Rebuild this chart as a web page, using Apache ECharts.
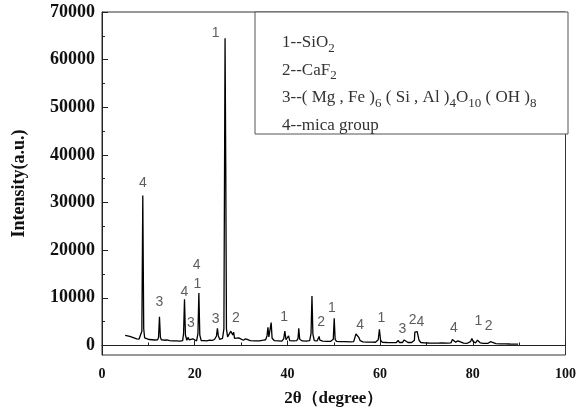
<!DOCTYPE html>
<html>
<head>
<meta charset="utf-8">
<script src="https://cdn.jsdelivr.net/npm/echarts@6/dist/echarts.min.js"></script>
<style>
  html, body { margin: 0; padding: 0; background: #fff; }
  #chart { width: 579px; height: 412px; }
</style>
</head>
<body>
<div id="chart"></div>
<script>
// 2θ (degree) 与强度
let twoTheta = [5.0, 5.5, 6.0, 6.3, 6.6, 7.0, 7.5, 8.0, 8.4, 8.6, 8.8, 9.0, 9.2, 9.6, 10.2, 10.8, 11.4, 12.0, 12.2, 12.4, 12.6, 12.8,
    13.4, 14.0, 14.6, 15.2, 16.0, 16.8, 17.4, 17.6, 17.8, 18.0, 18.3, 18.6, 18.8, 19.2, 19.6, 19.9, 20.4, 20.7, 20.9, 21.1, 21.4,
    22.0, 22.6, 23.2, 23.8, 24.3, 24.7, 24.9, 25.1, 25.4, 25.7, 26.0, 26.3, 26.55, 26.7, 26.85, 27.1, 27.5, 27.8, 28.0, 28.2, 28.4,
    28.6, 29.0, 29.5, 29.9, 30.5, 31.0, 31.4, 32.0, 33.0, 34.0, 34.8, 35.3, 35.6, 35.8, 36.0, 36.3, 36.5, 36.7, 37.2, 38.0, 38.8,
    39.2, 39.45, 39.7, 40.0, 40.25, 40.5, 41.2, 42.0, 42.3, 42.45, 42.65, 43.2, 44.0, 44.8, 45.1, 45.3, 45.5, 45.8, 46.4, 46.7,
    46.85, 47.0, 47.6, 48.5, 49.3, 49.9, 50.1, 50.3, 50.6, 51.5, 52.5, 53.5, 54.3, 54.6, 54.8, 55.1, 55.4, 55.7, 56.3, 57.2, 58.2,
    59.0, 59.6, 59.85, 60.1, 60.5, 61.5, 62.5, 63.5, 63.9, 64.2, 64.8, 65.2, 65.5, 66.0, 66.8, 67.4, 67.5, 67.75, 68.0, 68.2, 68.4,
    68.8, 69.5, 70.5, 71.5, 72.5, 73.3, 73.5, 73.7, 74.5, 75.3, 75.6, 75.9, 76.3, 76.8, 77.2, 78.0, 78.8, 79.5, 79.8, 80.1, 80.6,
    81.0, 81.3, 81.6, 82.3, 83.3, 83.8, 84.1, 85.0, 86.0, 87.0, 88.0, 89.0, 89.8];
let intensity = [2100, 2000, 1900, 2050, 1700, 1500, 1400, 1350, 1400, 3000, 31500, 3500, 1600, 1300, 1250, 1200, 1150, 1200, 1700, 6000, 1700, 1200,
    1100, 1150, 1000, 950, 950, 900, 1000, 2500, 9700, 2200, 1100, 1700, 1200, 1000, 1400, 1000, 950, 2500, 11000, 2200, 1000,
    1000, 950, 1100, 1050, 1300, 2000, 3600, 2000, 1300, 1200, 1500, 3500, 64500, 38000, 3500, 1800, 1600, 3000, 3400, 2200, 2800,
    1500, 1300, 1600, 1200, 1100, 1400, 1100, 1000, 950, 950, 1100, 1200, 2000, 3800, 1800, 2200, 4800, 1500, 1000, 950, 900,
    1400, 3000, 1200, 1200, 2000, 1000, 950, 1000, 1500, 3600, 1300, 950, 900, 1000, 2500, 10400, 2400, 1000, 950, 1300,
    1900, 1100, 900, 850, 850, 1300, 5700, 1300, 850, 800, 800, 750, 800, 1800, 2400, 2000, 1700, 1000, 750, 700, 700,
    680, 1200, 3400, 1100, 650, 620, 600, 620, 1050, 620, 620, 1150, 850, 620, 620, 1100, 2800, 3100, 2900, 3000, 1100,
    620, 560, 520, 500, 500, 520, 850, 500, 500, 560, 1250, 1050, 700, 950, 600, 480, 460, 800, 1450, 800, 560,
    1100, 1350, 560, 450, 450, 800, 430, 380, 350, 330, 310, 300, 280];

// 峰的标号
let peakText = ['4', '1', '3', '4', '3', '1', '4', '3', '2', '1', '2', '1', '4', '1', '3', '2', '4', '4', '1', '2'];
let peakX = [8.8, 24.5, 12.4, 17.8, 19.2, 20.6, 20.4, 24.5, 28.9, 39.3, 47.3, 49.6, 55.7, 60.3, 64.8, 67.0, 68.7, 75.9, 81.2, 83.4];
let peakY = [34000, 65500, 9000, 11200, 4600, 12950, 16900, 5600, 5700, 5900, 5000, 7900, 4300, 5800, 3400, 5300, 5000, 3600, 5100, 4150];

let yLabels = [0, 10000, 20000, 30000, 40000, 50000, 60000, 70000];
let yMinor = [5000, 15000, 25000, 35000, 45000, 55000, 65000];

let lineData = [];
for (var i = 0; i < twoTheta.length; i++) {
    lineData.push([twoTheta[i], intensity[i]]);
}
let labelData = [];
for (var k = 0; k < peakText.length; k++) {
    labelData.push([peakX[k], peakY[k], peakText[k]]);
}

var serif = '"Liberation Serif", "Times New Roman", serif';
var myChart = echarts.init(document.getElementById('chart'));
option = {
    animation: false,
    grid: {
        left: 102, right: 11, top: 12, bottom: 54,
        show: true, borderColor: '#333', borderWidth: 1
    },
    xAxis: {
        type: 'value',
        min: 0, max: 100, interval: 20,
        name: '2θ（degree）',
        nameLocation: 'middle',
        nameGap: 35,
        nameTextStyle: { fontFamily: serif, fontWeight: 'bold', fontSize: 17, color: '#111' },
        axisLine: { lineStyle: { color: '#222', width: 1 } },
        axisTick: { inside: true, length: 5, lineStyle: { color: '#222' } },
        minorTick: { show: true, splitNumber: 2, length: 3, lineStyle: { color: '#222' } },
        splitLine: { show: false },
        axisLabel: { fontFamily: serif, fontWeight: 'bold', fontSize: 14, color: '#111', margin: 12 }
    },
    yAxis: [
        {
            type: 'value',
            min: -2000, max: 70000,
            name: 'Intensity(a.u.)',
            nameLocation: 'middle',
            nameGap: 74,
            nameTextStyle: { fontFamily: serif, fontWeight: 'bold', fontSize: 18, color: '#111' },
            axisLine: { show: true, lineStyle: { color: '#222', width: 1 } },
            axisTick: { inside: true, length: 6, customValues: yLabels, lineStyle: { color: '#222' } },
            splitLine: { show: false },
            axisLabel: {
                customValues: yLabels,
                formatter: function (value) { return String(value); },
                fontFamily: serif, fontWeight: 'bold', fontSize: 18, color: '#111', margin: 7
            }
        },
        {
            type: 'value',
            min: -2000, max: 70000,
            position: 'left',
            axisLine: { show: false },
            axisTick: { show: true, inside: true, length: 3, customValues: yMinor, lineStyle: { color: '#222' } },
            axisLabel: { show: false },
            splitLine: { show: false }
        }
    ],
    graphic: [
        {
            type: 'rect',
            shape: { x: 255, y: 12, width: 313, height: 122 },
            style: { fill: '#fff', stroke: '#555', lineWidth: 1 },
            z: 10
        },
        {
            type: 'text',
            x: 282, y: 29,
            z: 11,
            style: {
                text: '1--SiO{s|2}\n2--CaF{s|2}\n3--( Mg , Fe ){s|6} ( Si , Al ){s|4}O{s|10} ( OH ){s|8}\n4--mica group',
                fontFamily: serif,
                fontSize: 17,
                lineHeight: 27.5,
                fill: '#333',
                verticalAlign: 'top',
                rich: {
                    s: { fontFamily: serif, fontSize: 13, fill: '#333', padding: [11, 0, 0, 0] }
                }
            }
        }
    ],
    series: [
        {
            type: 'line',
            data: lineData,
            showSymbol: false,
            lineStyle: { color: '#000', width: 1.3 },
            z: 2
        },
        {
            type: 'scatter',
            data: labelData,
            symbolSize: 0,
            label: {
                show: true,
                position: 'inside',
                formatter: function (p) { return p.data[2]; },
                fontFamily: '"Liberation Sans", Arial, sans-serif',
                fontSize: 14,
                color: '#333'
            },
            z: 3
        }
    ]
};
myChart.setOption(option);
</script>
</body>
</html>
